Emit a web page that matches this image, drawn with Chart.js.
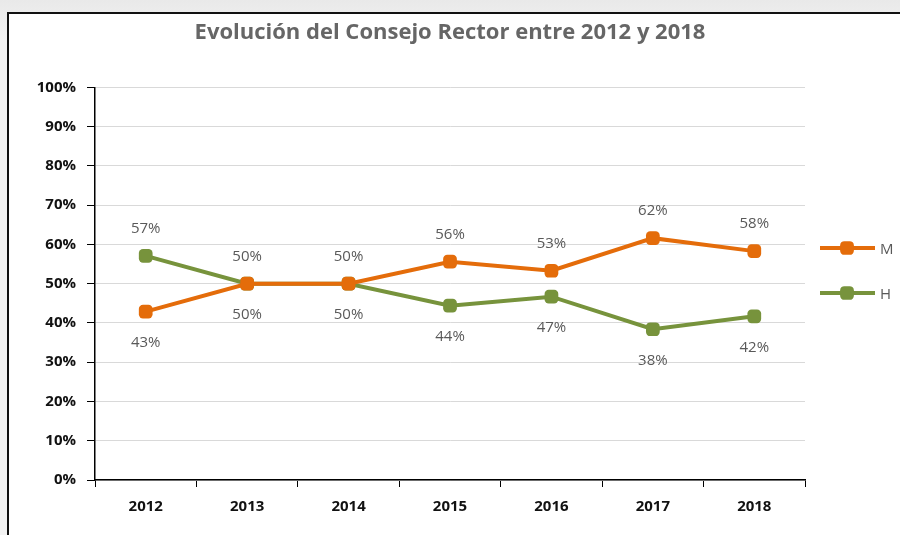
<!DOCTYPE html>
<html>
<head>
<meta charset="utf-8">
<script src="https://cdn.jsdelivr.net/npm/chart.js@4"></script>
<style>
  html, body { margin: 0; padding: 0; }
  body { width: 900px; height: 535px; background: linear-gradient(#e9e9e9, #f3f3f3 40px, #f3f3f3); position: relative; overflow: hidden; }
  #frame { position: absolute; left: 7px; top: 12px; width: 900px; height: 530px; background: #fff; border-left: 2px solid #111; border-top: 2px solid #111; }
  #wrap { position: absolute; left: 0; top: 0; width: 900px; height: 535px; }
</style>
</head>
<body>
<div id="frame"></div>
<div id="wrap"><canvas id="myChart"></canvas></div>
<script>
const years = ['2012', '2013', '2014', '2015', '2016', '2017', '2018'];
const mujeres = [42.9, 50, 50, 55.6, 53.3, 61.6, 58.3];
const hombres = [57.1, 50, 50, 44.4, 46.7, 38.4, 41.7];
const yTicks = [0, 10, 20, 30, 40, 50, 60, 70, 80, 90, 100];

const orange = '#E46C0A',
    green = '#77933C',
    gray = '#595959';

// etiquetas de valor: la serie mayor arriba, la menor abajo
const valueLabels = {
    id: 'valueLabels',
    afterDatasetsDraw(chart) {
        const ctx = chart.ctx;
        ctx.save();
        ctx.font = '15px "Open Sans"';
        ctx.fillStyle = gray;
        ctx.textAlign = 'center';
        ctx.textBaseline = 'middle';
        chart.data.datasets.forEach((ds, i) => {
            const other = chart.data.datasets[1 - i].data;
            chart.getDatasetMeta(i).data.forEach((pt, j) => {
                const v = ds.data[j];
                const above = v > other[j] || (v === other[j] && i === 0);
                const y = above ? pt.y - 27 : pt.y + 31;
                ctx.fillText(Math.round(v) + '%', pt.x, y);
            });
        });
        ctx.restore();
    }
};

// leyenda a la derecha, estilo Excel
const sideLegend = {
    id: 'sideLegend',
    afterDraw(chart) {
        const ctx = chart.ctx;
        const rows = [248, 293];
        ctx.save();
        chart.data.datasets.forEach((ds, i) => {
            const y = rows[i];
            ctx.strokeStyle = ds.borderColor;
            ctx.lineWidth = 4;
            ctx.beginPath();
            ctx.moveTo(820, y);
            ctx.lineTo(875, y);
            ctx.stroke();
            ctx.fillStyle = ds.backgroundColor;
            Chart.helpers.drawPoint(ctx, { pointStyle: 'rectRounded', radius: 8, rotation: 0, borderWidth: 0 }, 847, y);
            ctx.font = '15px "Open Sans"';
            ctx.fillStyle = gray;
            ctx.textAlign = 'left';
            ctx.textBaseline = 'middle';
            ctx.fillText(ds.label, 880, y + 2);
        });
        ctx.restore();
    }
};

const data = {
    labels: years,
    datasets: [{
        label: 'M',
        data: mujeres,
        borderColor: orange,
        backgroundColor: orange,
        pointBackgroundColor: orange,
        pointBorderWidth: 0,
        borderWidth: 4,
        pointStyle: 'rectRounded',
        pointRadius: 8,
        pointHoverRadius: 8
    }, {
        label: 'H',
        data: hombres,
        borderColor: green,
        backgroundColor: green,
        pointBackgroundColor: green,
        pointBorderWidth: 0,
        borderWidth: 4,
        pointStyle: 'rectRounded',
        pointRadius: 8,
        pointHoverRadius: 8
    }]
};

const config = {
    type: 'line',
    data: data,
    plugins: [valueLabels, sideLegend],
    options: {
        responsive: false,
        animation: false,
        layout: { padding: 0 },
        plugins: {
            legend: { display: false },
            tooltip: { enabled: false },
            title: {
                display: true,
                text: 'Evolución del Consejo Rector entre 2012 y 2018',
                color: '#666',
                font: { family: '"Open Sans"', size: 22, weight: 'bold' },
                padding: { top: 20, bottom: 41 }
            }
        },
        scales: {
            x: {
                offset: true,
                grid: {
                    offset: true,
                    drawOnChartArea: false,
                    color: '#000',
                    tickLength: 7,
                    lineWidth: 1
                },
                border: { color: '#000', width: 1.5 },
                ticks: {
                    color: '#111',
                    padding: 11,
                    font: { family: '"Open Sans"', size: 15, weight: 'bold' }
                },
                afterFit(scale) { scale.height = 55; }
            },
            y: {
                min: 0,
                max: 100,
                afterBuildTicks(scale) { scale.ticks = yTicks.map(v => ({ value: v })); },
                grid: {
                    color: '#d9d9d9',
                    tickColor: '#000',
                    tickLength: 8
                },
                border: { color: '#000', width: 1.5 },
                ticks: {
                    color: '#111',
                    padding: 11,
                    font: { family: '"Open Sans"', size: 15, weight: 'bold' },
                    callback: v => v + '%'
                },
                afterFit(scale) { scale.width = 95; }
            },
            // eje vacío que reserva el hueco de la leyenda
            legendSpace: {
                position: 'right',
                grid: { display: false },
                border: { display: false },
                ticks: { display: false },
                afterFit(scale) { scale.width = 95; }
            }
        }
    }
};

const canvas = document.getElementById('myChart');
canvas.width = 900;
canvas.height = 535;
const myChart = new Chart(canvas, config);
</script>
</body>
</html>
